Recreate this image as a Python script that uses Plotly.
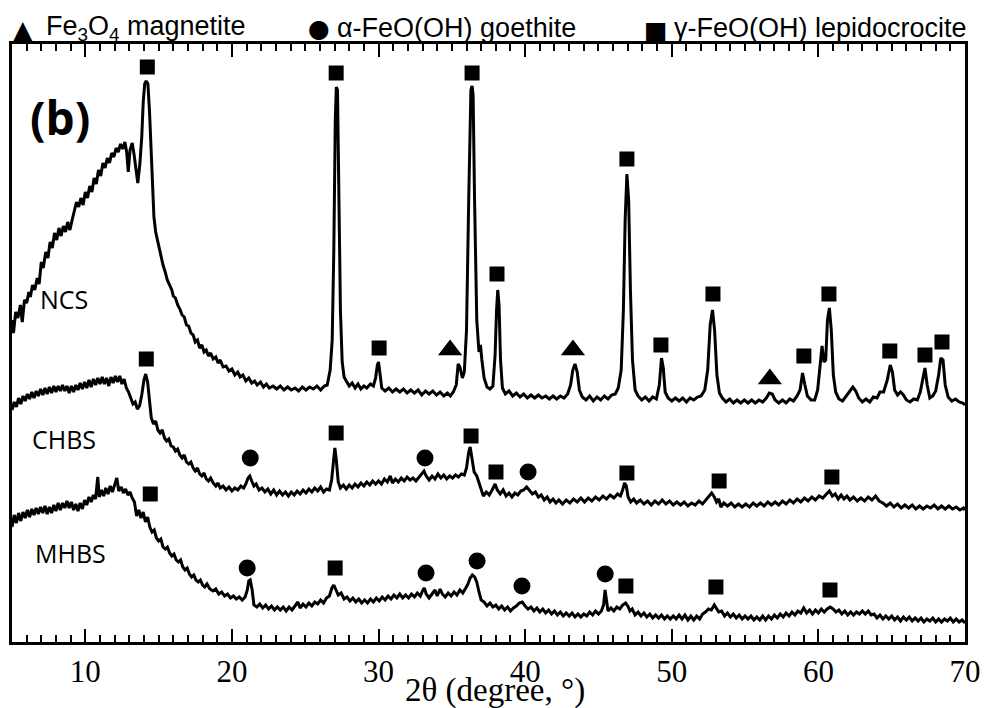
import plotly.graph_objects as go

# ---------------- data (2theta in degrees, intensity in arbitrary units) ----------------
ncs = [(5.00,322),(5.10,309),(5.25,330),(5.40,324),(5.57,337),(5.70,320),(5.85,342),(6.00,339),(6.15,350),(6.25,345),
(6.40,357),(6.55,352),(6.72,364),(6.85,358),(7.00,380),(7.13,374),(7.30,390),(7.45,384),(7.60,400),(7.75,394),
(7.90,409),(8.05,402),(8.20,414),(8.35,406),(8.50,416),(8.65,410),(8.80,420),(8.95,412),(9.10,422),(9.25,430),
(9.40,440),(9.55,435),(9.70,444),(9.85,437),(10.00,450),(10.15,444),(10.30,456),(10.45,450),(10.60,464),(10.75,458),
(10.90,472),(11.05,466),(11.20,479),(11.35,474),(11.50,484),(11.65,479),(11.80,489),(11.95,485),(12.10,494),(12.25,490),
(12.40,498),(12.55,493),(12.70,500),(12.82,490),(12.93,470),(13.05,492),(13.20,499),(13.32,488),(13.45,470),(13.58,459),
(13.72,478),(13.85,505),(13.95,540),(14.05,558),(14.15,561),(14.27,558),(14.38,530),(14.48,490),(14.58,445),(14.68,425),
(14.80,410),(14.92,402),(15.05,392),(15.15,385),(15.30,377),(15.45,370),(15.59,362),(15.75,357),(15.90,352),(16.00,346),
(16.15,344),(16.30,337),(16.45,333),(16.60,327),(16.75,325),(16.90,317),(17.05,316),(17.20,309),(17.36,307),(17.50,300),
(17.65,302),(17.80,294),(17.95,297),(18.10,290),(18.25,292),(18.40,286),(18.55,289),(18.72,283),(18.90,285),(19.05,279),
(19.20,282),(19.40,275),(19.60,276),(19.80,271),(20.00,273),(20.20,267),(20.40,270),(20.56,265),(20.75,267),(20.95,261),
(21.15,264),(21.35,259),(21.55,261),(21.72,257),(21.95,260),(22.15,255),(22.35,258),(22.55,254),(22.81,256),(23.05,253),
(23.30,256),(23.55,252),(23.80,255),(24.05,252),(24.30,254),(24.55,251),(24.80,255),(25.05,252),(25.30,255),(25.55,253),
(25.80,256),(26.05,252),(26.30,256),(26.50,257),(26.70,272),(26.84,302),(26.95,392),(27.05,522),(27.12,555),(27.20,552),
(27.30,462),(27.40,332),(27.52,280),(27.65,265),(27.80,261),(28.00,256),(28.20,259),(28.40,254),(28.60,258),(28.80,253),
(29.00,256),(29.20,254),(29.45,258),(29.65,256),(29.80,264),(29.92,277),(30.00,280),(30.10,270),(30.22,254),(30.45,251),
(30.70,254),(30.95,250),(31.20,253),(31.45,250),(31.70,253),(31.95,249),(32.20,252),(32.45,249),(32.70,252),(32.95,247),
(33.20,251),(33.45,248),(33.70,251),(33.95,247),(34.20,250),(34.45,246),(34.70,249),(34.90,246),(35.10,250),(35.30,257),
(35.43,278),(35.55,275),(35.72,264),(35.85,270),(36.00,312),(36.15,442),(36.30,552),(36.38,556),(36.45,547),(36.55,442),
(36.70,322),(36.85,290),(36.95,297),(37.05,282),(37.20,264),(37.40,255),(37.60,253),(37.80,256),(37.95,287),(38.05,332),
(38.13,352),(38.22,337),(38.32,282),(38.45,254),(38.65,248),(38.90,251),(39.15,246),(39.40,249),(39.65,245),(39.90,248),
(40.15,244),(40.40,247),(40.65,244),(40.90,247),(41.15,244),(41.40,246),(41.65,243),(41.90,246),(42.15,243),(42.40,246),
(42.65,244),(42.90,248),(43.10,257),(43.25,272),(43.40,278),(43.55,270),(43.70,252),(43.90,245),(44.15,242),(44.40,246),
(44.65,241),(44.90,245),(45.15,242),(45.40,246),(45.65,243),(45.90,247),(46.15,248),(46.35,254),(46.55,272),(46.70,332),
(46.82,422),(46.94,468),(47.06,442),(47.18,352),(47.32,282),(47.50,252),(47.70,246),(47.95,242),(48.20,245),(48.45,241),
(48.70,245),(48.95,243),(49.15,257),(49.30,284),(49.42,274),(49.55,250),(49.75,244),(50.00,241),(50.25,244),(50.50,241),
(50.75,244),(51.00,240),(51.25,244),(51.50,242),(51.75,245),(52.00,246),(52.25,252),(52.45,272),(52.62,317),(52.78,332),
(52.92,312),(53.08,267),(53.25,249),(53.45,244),(53.70,240),(53.95,243),(54.20,239),(54.45,242),(54.70,239),(54.95,242),
(55.20,239),(55.45,242),(55.70,239),(55.95,242),(56.20,240),(56.45,244),(56.65,249),(56.85,248),(57.05,242),(57.30,239),
(57.55,242),(57.80,239),(58.05,243),(58.30,241),(58.55,246),(58.75,252),(58.92,269),(59.08,257),(59.25,246),(59.50,242),
(59.75,242),(59.95,252),(60.10,272),(60.25,296),(60.38,280),(60.50,282),(60.62,322),(60.75,334),(60.88,312),(61.02,267),
(61.18,250),(61.40,243),(61.65,241),(61.90,246),(62.15,252),(62.35,255),(62.55,251),(62.75,244),(63.00,240),(63.25,243),
(63.50,240),(63.75,245),(64.00,244),(64.20,250),(64.45,250),(64.70,262),(64.90,277),(65.05,270),(65.20,252),(65.40,247),
(65.60,250),(65.80,247),(66.00,242),(66.25,240),(66.50,243),(66.75,242),(66.95,250),(67.12,264),(67.27,274),(67.42,257),
(67.60,244),(67.80,246),(68.00,251),(68.20,267),(68.35,284),(68.50,282),(68.65,257),(68.85,245),(69.10,241),(69.35,243),
(69.60,240),(69.85,239),(70.00,237)]

chbs = [(5.00,232),(5.15,240),(5.30,235),(5.45,244),(5.60,238),(5.75,246),(5.90,241),(6.05,248),(6.20,243),(6.35,250),
(6.50,244),(6.65,251),(6.80,246),(6.95,253),(7.10,247),(7.25,254),(7.40,248),(7.55,255),(7.70,249),(7.85,256),
(8.00,250),(8.15,256),(8.30,251),(8.45,257),(8.60,251),(8.75,256),(8.90,249),(9.05,256),(9.20,250),(9.35,257),
(9.50,252),(9.65,259),(9.80,253),(9.95,260),(10.10,254),(10.25,262),(10.40,255),(10.55,263),(10.70,257),(10.85,264),
(11.00,258),(11.15,265),(11.30,258),(11.45,264),(11.60,256),(11.75,265),(11.90,259),(12.05,266),(12.20,260),(12.35,266),
(12.50,258),(12.65,263),(12.80,254),(12.95,250),(13.10,244),(13.25,238),(13.40,240),(13.55,233),(13.70,236),(13.85,247),
(14.00,262),(14.12,268),(14.25,260),(14.38,237),(14.50,224),(14.65,218),(14.80,221),(14.95,212),(15.10,209),(15.25,212),
(15.40,204),(15.55,201),(15.70,203),(15.85,196),(16.00,195),(16.15,191),(16.30,193),(16.45,187),(16.60,184),(16.75,187),
(16.90,180),(17.05,178),(17.20,180),(17.36,174),(17.50,171),(17.65,174),(17.80,168),(17.95,166),(18.10,169),(18.25,163),
(18.40,161),(18.55,164),(18.72,159),(18.90,156),(19.05,159),(19.20,154),(19.40,156),(19.60,152),(19.80,155),(20.00,151),
(20.20,154),(20.40,152),(20.60,156),(20.80,154),(20.95,158),(21.10,164),(21.22,166),(21.35,161),(21.50,156),(21.65,158),
(21.85,152),(22.05,154),(22.25,150),(22.45,153),(22.65,148),(22.85,152),(23.05,147),(23.25,151),(23.45,147),(23.65,150),
(23.85,146),(24.05,150),(24.25,147),(24.45,151),(24.65,148),(24.85,152),(25.05,149),(25.25,153),(25.45,150),(25.65,154),
(25.85,151),(26.05,155),(26.25,150),(26.45,153),(26.65,152),(26.80,162),(26.92,184),(27.02,194),(27.12,182),(27.25,160),
(27.40,154),(27.60,157),(27.80,153),(28.00,157),(28.20,154),(28.40,158),(28.60,155),(28.80,159),(29.00,156),(29.20,160),
(29.40,157),(29.60,161),(29.80,158),(30.00,161),(30.20,158),(30.40,163),(30.60,160),(30.80,166),(30.95,159),(31.15,163),
(31.35,160),(31.55,164),(31.75,161),(31.95,165),(32.15,162),(32.35,164),(32.55,161),(32.75,165),(32.95,168),(33.10,171),
(33.25,166),(33.45,162),(33.65,166),(33.85,163),(34.05,168),(34.25,164),(34.45,167),(34.65,163),(34.85,166),(35.05,164),
(35.25,167),(35.45,165),(35.65,168),(35.85,167),(36.00,174),(36.15,190),(36.25,195),(36.38,182),(36.52,170),(36.70,166),
(36.85,160),(37.00,152),(37.15,146),(37.35,150),(37.55,147),(37.75,152),(37.95,158),(38.10,152),(38.30,148),(38.50,152),
(38.70,146),(38.90,149),(39.10,145),(39.30,149),(39.50,147),(39.70,151),(39.90,152),(40.10,155),(40.30,151),(40.50,148),
(40.70,150),(40.90,145),(41.10,147),(41.30,142),(41.50,145),(41.70,140),(41.90,143),(42.10,139),(42.30,142),(42.55,138),
(42.80,142),(43.05,139),(43.30,143),(43.55,140),(43.80,144),(44.05,140),(44.30,144),(44.55,141),(44.80,145),(45.05,142),
(45.30,146),(45.55,143),(45.80,147),(46.05,144),(46.30,148),(46.50,146),(46.65,152),(46.78,159),(46.90,156),(47.02,145),
(47.20,140),(47.40,143),(47.60,139),(47.85,142),(48.10,138),(48.35,141),(48.60,137),(48.85,141),(49.10,138),(49.35,142),
(49.60,138),(49.85,141),(50.10,137),(50.35,140),(50.60,137),(50.85,140),(51.10,136),(51.35,139),(51.60,137),(51.85,141),
(52.10,138),(52.35,142),(52.55,146),(52.72,149),(52.90,145),(53.05,140),(53.20,143),(53.35,135),(53.55,139),(53.80,136),
(54.05,139),(54.30,135),(54.55,138),(54.80,135),(55.05,138),(55.30,135),(55.55,139),(55.80,136),(56.05,139),(56.30,136),
(56.55,140),(56.80,137),(57.05,140),(57.30,137),(57.55,141),(57.80,138),(58.05,142),(58.30,139),(58.55,143),(58.80,140),
(59.05,144),(59.30,141),(59.55,145),(59.80,142),(60.05,146),(60.30,144),(60.55,148),(60.75,151),(60.95,146),(61.15,148),
(61.35,143),(61.55,147),(61.75,143),(61.95,146),(62.15,142),(62.40,145),(62.65,141),(62.90,144),(63.15,141),(63.40,145),
(63.65,142),(63.90,146),(64.15,141),(64.40,139),(64.65,136),(64.90,139),(65.15,135),(65.40,138),(65.65,134),(65.90,137),
(66.15,134),(66.40,137),(66.65,133),(66.90,136),(67.15,133),(67.40,136),(67.65,134),(67.90,137),(68.15,133),(68.40,136),
(68.65,133),(68.90,136),(69.15,133),(69.40,135),(69.65,132),(69.90,134),(70.00,132)]

mhbs = [(5.00,115),(5.15,127),(5.30,119),(5.45,129),(5.60,121),(5.75,130),(5.90,124),(6.05,132),(6.20,125),(6.35,133),
(6.50,127),(6.65,134),(6.80,128),(6.95,135),(7.10,129),(7.25,136),(7.40,128),(7.55,135),(7.70,129),(7.85,137),
(8.00,131),(8.15,139),(8.30,132),(8.45,139),(8.60,134),(8.75,141),(8.90,134),(9.05,140),(9.20,132),(9.35,138),
(9.50,131),(9.65,139),(9.80,133),(9.95,142),(10.10,137),(10.25,145),(10.40,140),(10.55,147),(10.70,143),(10.85,165),
(10.95,145),(11.10,152),(11.25,146),(11.40,154),(11.55,148),(11.70,156),(11.85,150),(12.00,157),(12.15,164),(12.28,151),
(12.45,155),(12.60,149),(12.75,153),(12.90,147),(13.05,150),(13.20,144),(13.35,140),(13.50,126),(13.65,132),(13.80,124),
(13.95,130),(14.10,120),(14.25,125),(14.40,115),(14.55,110),(14.70,112),(14.85,104),(15.00,101),(15.15,103),(15.30,95),
(15.45,93),(15.60,95),(15.75,89),(15.90,86),(16.05,88),(16.20,82),(16.35,80),(16.50,82),(16.65,75),(16.80,72),
(16.95,74),(17.10,68),(17.25,65),(17.40,67),(17.55,62),(17.70,60),(17.85,62),(18.00,57),(18.15,55),(18.30,58),
(18.50,53),(18.70,51),(18.90,53),(19.10,48),(19.30,50),(19.50,46),(19.70,48),(19.90,44),(20.10,46),(20.30,43),
(20.50,45),(20.70,42),(20.90,45),(21.05,52),(21.15,61),(21.25,62),(21.38,52),(21.50,37),(21.70,35),(21.90,38),
(22.10,34),(22.30,37),(22.50,33),(22.70,36),(22.90,32),(23.10,35),(23.30,32),(23.50,35),(23.70,31),(23.90,35),
(24.10,32),(24.30,36),(24.50,40),(24.65,34),(24.85,38),(25.05,35),(25.25,39),(25.45,36),(25.65,40),(25.85,38),
(26.05,42),(26.25,39),(26.45,44),(26.65,46),(26.82,54),(26.95,57),(27.10,52),(27.25,47),(27.45,49),(27.65,43),
(27.85,45),(28.05,41),(28.25,44),(28.45,40),(28.65,43),(28.85,39),(29.05,42),(29.25,39),(29.45,43),(29.65,40),
(29.85,44),(30.05,41),(30.25,45),(30.45,42),(30.65,46),(30.85,43),(31.05,47),(31.25,44),(31.45,48),(31.65,44),
(31.85,47),(32.05,44),(32.25,48),(32.45,45),(32.65,49),(32.85,46),(33.00,51),(33.12,54),(33.25,48),(33.45,44),
(33.65,48),(33.85,52),(34.00,46),(34.20,53),(34.35,48),(34.55,45),(34.75,49),(34.95,46),(35.15,50),(35.35,47),
(35.55,52),(35.75,49),(35.95,54),(36.10,58),(36.25,64),(36.40,67),(36.55,65),(36.70,60),(36.85,50),(37.00,42),
(37.20,40),(37.40,36),(37.60,39),(37.80,35),(38.00,37),(38.20,33),(38.40,36),(38.60,32),(38.80,35),(39.00,31),
(39.20,34),(39.40,36),(39.60,39),(39.80,40),(40.00,36),(40.20,33),(40.40,35),(40.60,31),(40.80,34),(41.00,30),
(41.20,33),(41.40,29),(41.60,32),(41.80,28),(42.00,31),(42.20,27),(42.40,30),(42.60,26),(42.80,29),(43.00,26),
(43.20,29),(43.40,25),(43.60,28),(43.80,25),(44.00,28),(44.20,26),(44.40,30),(44.60,27),(44.80,31),(45.00,28),
(45.20,31),(45.35,37),(45.45,52),(45.55,42),(45.65,31),(45.85,34),(46.05,31),(46.25,35),(46.45,33),(46.65,37),
(46.85,39),(47.00,36),(47.15,31),(47.30,33),(47.50,27),(47.70,30),(47.90,26),(48.10,29),(48.30,25),(48.50,28),
(48.70,24),(48.90,27),(49.10,24),(49.30,27),(49.50,23),(49.70,26),(49.90,23),(50.10,26),(50.30,23),(50.50,27),
(50.70,23),(50.90,27),(51.10,22),(51.30,26),(51.50,22),(51.70,26),(51.90,23),(52.10,28),(52.30,30),(52.50,33),
(52.70,32),(52.90,37),(53.05,33),(53.20,30),(53.40,31),(53.60,26),(53.80,29),(54.00,25),(54.20,28),(54.40,24),
(54.60,27),(54.80,23),(55.00,26),(55.20,23),(55.40,26),(55.60,22),(55.80,25),(56.00,22),(56.20,26),(56.40,22),
(56.60,26),(56.80,23),(57.00,27),(57.20,24),(57.40,28),(57.60,25),(57.80,29),(58.00,26),(58.20,30),(58.40,27),
(58.60,31),(58.80,29),(59.00,34),(59.20,29),(59.40,32),(59.60,28),(59.80,32),(60.00,29),(60.20,33),(60.40,30),
(60.60,33),(60.80,35),(61.00,33),(61.20,30),(61.40,32),(61.60,28),(61.80,31),(62.00,27),(62.20,30),(62.40,27),
(62.60,30),(62.80,28),(63.00,31),(63.20,28),(63.40,31),(63.60,27),(63.80,28),(64.00,24),(64.20,27),(64.40,23),
(64.60,26),(64.80,23),(65.00,26),(65.20,22),(65.40,25),(65.60,21),(65.80,25),(66.00,22),(66.20,25),(66.40,21),
(66.60,24),(66.80,21),(67.00,24),(67.20,20),(67.40,23),(67.60,21),(67.80,24),(68.00,20),(68.20,23),(68.40,20),
(68.60,23),(68.80,21),(69.00,24),(69.20,20),(69.40,23),(69.60,20),(69.80,22),(70.00,19)]

# phase markers (2theta, height)
lepidocrocite_pts = [(14.23,575),(27.11,569),(30.04,294),(36.38,569),(38.08,368),(46.94,483),(49.26,297),(52.81,348),
                     (59.01,286),(60.72,348),(64.87,291),(67.27,287),(68.43,300),
                     (14.16,283),(27.11,209),(36.31,206),(38.01,170),(46.94,169),(53.23,161),(60.92,165),
                     (14.43,148),(27.04,74),(46.87,56),(53.01,55),(60.79,52)]
goethite_pts = [(21.25,184),(33.17,184),(40.20,170),
                (21.04,74),(33.24,69),(36.72,81),(39.78,56),(45.46,68)]
magnetite_pts = [(34.88,292),(43.26,292),(56.69,263)]

sample_labels = ["NCS", "CHBS", "MHBS"]
x_ticks = [10, 20, 30, 40, 50, 60, 70]

# ---------------- figure ----------------
W, H = 985, 708
ML, MR, MT, MB = 12, 20, 44, 66
PW, PH = W - ML - MR, H - MT - MB

def px(x):
    return (x - ML) / PW

def py(y):
    return (H - MB - y) / PH

fig = go.Figure()
for data in (ncs, chbs, mhbs):
    fig.add_trace(go.Scatter(x=[p[0] for p in data], y=[p[1] for p in data], mode="lines",
                             line=dict(color="black", width=3), hoverinfo="skip", showlegend=False))

for pts, sym, size in ((lepidocrocite_pts, "square", 15), (goethite_pts, "circle", 17),
                       (magnetite_pts, "triangle-up", 21)):
    fig.add_trace(go.Scatter(x=[p[0] for p in pts], y=[p[1] for p in pts], mode="markers",
                             marker=dict(symbol=sym, size=size, color="black", line=dict(width=0)),
                             showlegend=False, hoverinfo="skip", cliponaxis=False))

ann = []
# sample labels
for lab, (xp, yp) in zip(sample_labels, [(64, 299), (64, 439), (70, 553)]):
    ann.append(dict(x=px(xp), y=py(yp), xref="paper", yref="paper", text=lab, showarrow=False,
                    xanchor="center", yanchor="middle", font=dict(family="Open Sans", size=25, color="black")))
# panel label
ann.append(dict(x=px(60), y=py(117), xref="paper", yref="paper", text="<b>(b)</b>", showarrow=False,
                xanchor="center", yanchor="middle", font=dict(family="Open Sans", size=46, color="black")))
# x-axis title
ann.append(dict(x=px(495), y=py(690), xref="paper", yref="paper", text="2\u03b8 (degree, \u00b0)", showarrow=False,
                xanchor="center", yanchor="middle", font=dict(family="Liberation Serif", size=33, color="black")))
# phase legend across the top
leg_font = dict(family="Liberation Sans", size=27, color="black")
ann += [
    dict(x=px(23), y=py(30), text="\u25b2", font=dict(family="DejaVu Sans", size=28, color="black"), xanchor="center"),
    dict(x=px(44), y=py(28), text="Fe<sub>3</sub>O<sub>4</sub> magnetite", font=leg_font, xanchor="left"),
    dict(x=px(319), y=py(29), text="\u25cf", font=dict(family="DejaVu Sans", size=25, color="black"), xanchor="center"),
    dict(x=px(335), y=py(28), text="\u03b1-FeO(OH) goethite", font=leg_font, xanchor="left"),
    dict(x=px(656), y=py(30), text="\u25a0", font=dict(family="DejaVu Sans", size=25, color="black"), xanchor="center"),
    dict(x=px(672), y=py(28), text="\u03b3-FeO(OH) lepidocrocite", font=leg_font, xanchor="left"),
]
for a in ann[-6:]:
    a.update(xref="paper", yref="paper", showarrow=False, yanchor="middle")

fig.update_layout(
    width=W, height=H, margin=dict(l=ML, r=MR, t=MT, b=MB, autoexpand=False),
    paper_bgcolor="white", plot_bgcolor="white", annotations=ann, showlegend=False,
    xaxis=dict(range=[5, 70], tickvals=x_ticks, ticks="inside", ticklen=13, tickwidth=2, tickcolor="black",
               minor=dict(dtick=1, tick0=0, ticks="inside", ticklen=7, tickwidth=2, tickcolor="black"),
               showline=True, linewidth=3, linecolor="black", mirror="ticks", showgrid=False, zeroline=False,
               automargin=False,
               tickfont=dict(family="Liberation Serif", size=31, color="black"), ticklabelstandoff=0),
    yaxis=dict(range=[0, PH], showline=True, linewidth=3, linecolor="black", mirror=True, automargin=False,
               showticklabels=False, ticks="", showgrid=False, zeroline=False),
)

fig.write_html("out.html")
